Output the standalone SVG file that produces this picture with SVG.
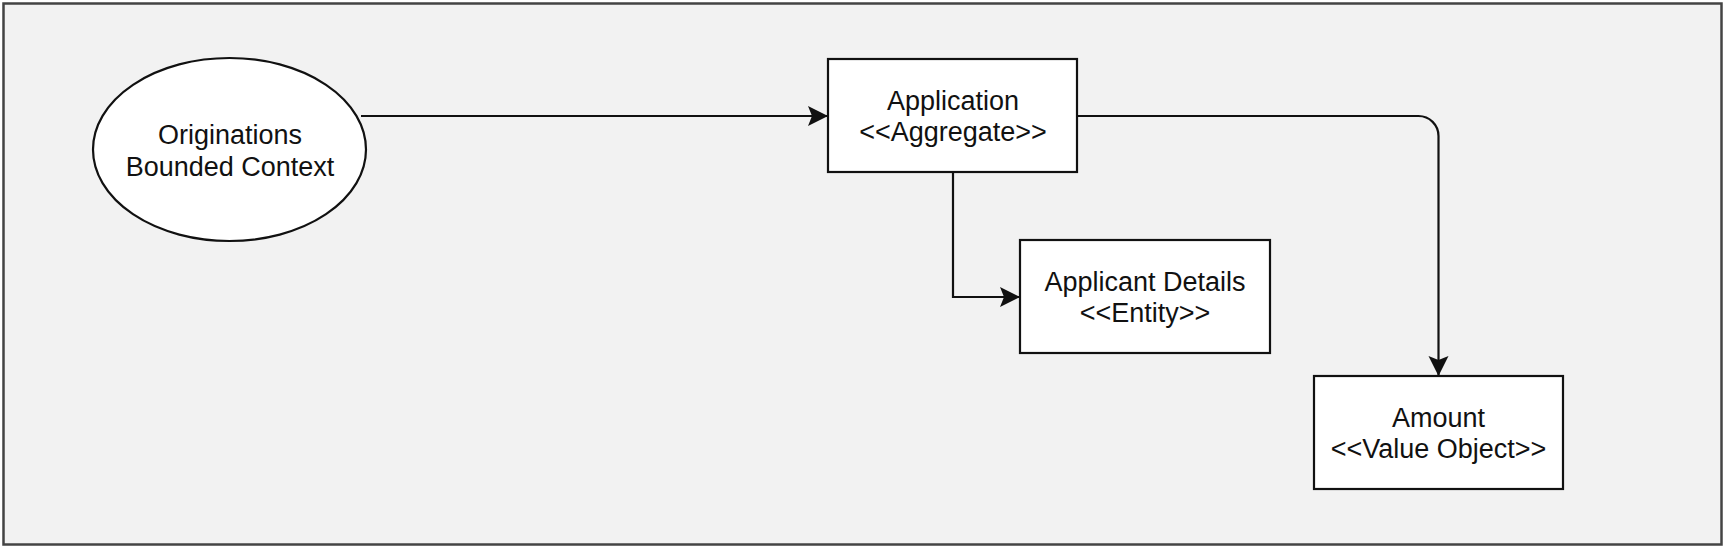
<svg xmlns="http://www.w3.org/2000/svg" width="1725" height="549" viewBox="0 0 1725 549">
  <style>
    .node { fill: #ffffff; stroke: #111111; stroke-width: 2.2; }
    .label { font-family: "Liberation Sans", Arial, Helvetica, sans-serif; font-size: 27px; fill: #111111; text-anchor: middle; }
    .conn { fill: none; stroke: #111111; stroke-width: 2.2; }
  </style>
  <defs>
    <marker id="arrow" markerUnits="userSpaceOnUse" markerWidth="22" markerHeight="22" refX="20" refY="10" orient="auto" viewBox="0 0 22 22">
      <path d="M0,0 L20,10 L0,20 L4,10 Z" fill="#111111"/>
    </marker>
  </defs>
  <rect x="0" y="0" width="1725" height="549" fill="#ffffff"/>
  <rect id="frame" x="3.5" y="3.5" width="1718" height="541" fill="#f2f2f2" stroke="#444444" stroke-width="2.5"/>

  <g id="connectors">
    <path class="conn" d="M361,116 H828" marker-end="url(#arrow)"/>
    <path class="conn" d="M1077,116 H1418.5 A20,20 0 0 1 1438.5,136 V376" marker-end="url(#arrow)"/>
    <path class="conn" d="M953,172 V297 H1020" marker-end="url(#arrow)"/>
  </g>

  <g id="originations">
    <ellipse class="node" cx="229.5" cy="149.5" rx="136.5" ry="91.5"/>
    <text class="label" x="230" y="144">Originations</text>
    <text class="label" x="230" y="176">Bounded Context</text>
  </g>

  <g id="application">
    <rect class="node" x="828" y="59" width="249" height="113"/>
    <text class="label" x="953" y="110">Application</text>
    <text class="label" x="953" y="141">&lt;&lt;Aggregate&gt;&gt;</text>
  </g>

  <g id="applicant-details">
    <rect class="node" x="1020" y="240" width="250" height="113"/>
    <text class="label" x="1145" y="291">Applicant Details</text>
    <text class="label" x="1145" y="322">&lt;&lt;Entity&gt;&gt;</text>
  </g>

  <g id="amount">
    <rect class="node" x="1314" y="376" width="249" height="113"/>
    <text class="label" x="1438.5" y="427">Amount</text>
    <text class="label" x="1438.5" y="458">&lt;&lt;Value Object&gt;&gt;</text>
  </g>
</svg>
